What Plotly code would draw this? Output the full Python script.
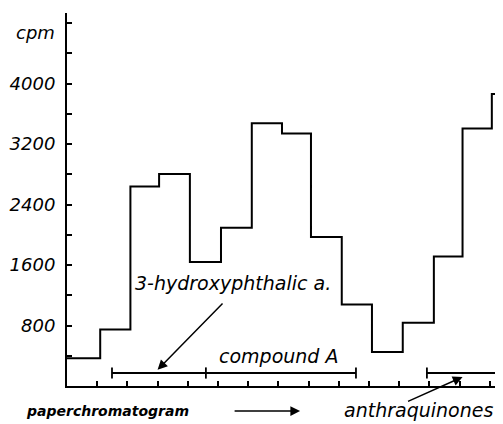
import plotly.graph_objects as go

# Step histogram of radioactivity along the paper chromatogram
fraction_edges = [0, 1.1, 2.1, 3.05, 4.07, 5.1, 6.12, 7.12, 8.08, 9.1, 10.1, 11.12, 12.15, 13.1, 14.07, 15.1]
cpm_values = [368, 749, 2640, 2805, 1640, 2092, 3475, 3340, 1970, 1078, 451, 837, 1712, 3407, 3862]

x_ticks = list(range(1, 15))
y_ticks = list(range(0, 5200, 400))
y_labels = ["" if (v == 0 or v % 800 or v > 4000) else str(v) for v in y_ticks]

# Zone bars drawn just above the x axis
zone_level = 172
zone_hydroxy = [1.49, 4.6]
zone_compound = [4.6, 9.57]
zone_anthra = [11.92, 15.0]

FONT = "DejaVu Sans"
# the page body has an 8 px margin; the figure is sized so the plot sits where the reference has it
BODY = 8

fig = go.Figure()

fig.add_trace(go.Scatter(
    x=fraction_edges,
    y=cpm_values + [cpm_values[-1]],
    mode="lines",
    line=dict(shape="hv", color="black", width=2),
    hoverinfo="skip",
))

for seg in (zone_hydroxy, zone_compound, zone_anthra):
    fig.add_trace(go.Scatter(
        x=seg, y=[zone_level, zone_level], mode="lines",
        line=dict(color="black", width=1.8), hoverinfo="skip",
    ))
cap_x = [zone_hydroxy[0], zone_hydroxy[1], zone_compound[1], zone_anthra[0]]
fig.add_trace(go.Scatter(
    x=cap_x, y=[zone_level] * len(cap_x), mode="markers",
    marker=dict(symbol="line-ns-open", size=8, color="black",
                line=dict(color="black", width=1.8)),
    hoverinfo="skip",
))

txt = dict(family=FONT, size=19, color="black", style="italic")

annotations = [
    dict(text="cpm", x=(35 - 67) / 436, y=(386 - 32) / 373, xref="paper", yref="paper",
         xanchor="center", yanchor="middle", showarrow=False,
         font=dict(family=FONT, size=18, color="black", style="italic")),
    dict(text="3-hydroxyphthalic a.", x=2.2, y=1362, xref="x", yref="y",
         xanchor="left", yanchor="middle", showarrow=False, font=txt),
    dict(text="compound A", x=7.0, y=395, xref="x", yref="y",
         xanchor="center", yanchor="middle", showarrow=False, font=txt),
    dict(text="", x=3.0, y=215, xref="x", yref="y",
         ax=5.2, ay=1110, axref="x", ayref="y",
         showarrow=True, arrowhead=2, arrowsize=1.3, arrowwidth=1.5, arrowcolor="black"),
    dict(text="anthraquinones", x=11.64, y=(386 - 410) / 373, xref="x", yref="paper",
         xanchor="center", yanchor="middle", showarrow=False, font=txt),
    dict(text="", x=13.1, y=119, xref="x", yref="y",
         ax=-56, ay=25,
         showarrow=True, arrowhead=2, arrowsize=1.3, arrowwidth=1.5, arrowcolor="black"),
    dict(text="paperchromatogram", x=(107 - 67) / 436, y=(386 - 411) / 373,
         xref="paper", yref="paper", xanchor="center", yanchor="middle", showarrow=False,
         font=dict(family=FONT, size=14, color="black", style="italic", weight="bold")),
    dict(text="", x=7.72, y=(386 - 411) / 373, xref="x", yref="paper",
         ax=-67, ay=0,
         showarrow=True, arrowhead=2, arrowsize=1.3, arrowwidth=1.5, arrowcolor="black"),
]

fig.update_layout(
    width=503 - BODY, height=424 - BODY, autosize=False,
    margin=dict(l=67 - BODY, r=0, t=13 - BODY, b=38, pad=0),
    paper_bgcolor="white", plot_bgcolor="white",
    showlegend=False,
    annotations=annotations,
    xaxis=dict(
        range=[0, 14.44], showline=True, linecolor="black", linewidth=2,
        ticks="inside", tickvals=x_ticks, ticklen=5, tickwidth=1.5, tickcolor="black",
        showticklabels=False, showgrid=False, zeroline=False, fixedrange=True,
    ),
    yaxis=dict(
        range=[0, 4934], showline=True, linecolor="black", linewidth=2,
        ticks="inside", tickvals=y_ticks, ticktext=y_labels, ticklen=5, tickwidth=1.5,
        tickcolor="black", showgrid=False, zeroline=False, fixedrange=True,
        ticklabelstandoff=6,
        tickfont=dict(family=FONT, size=18, color="black", style="italic"),
    ),
)

fig.write_html("out.html")
